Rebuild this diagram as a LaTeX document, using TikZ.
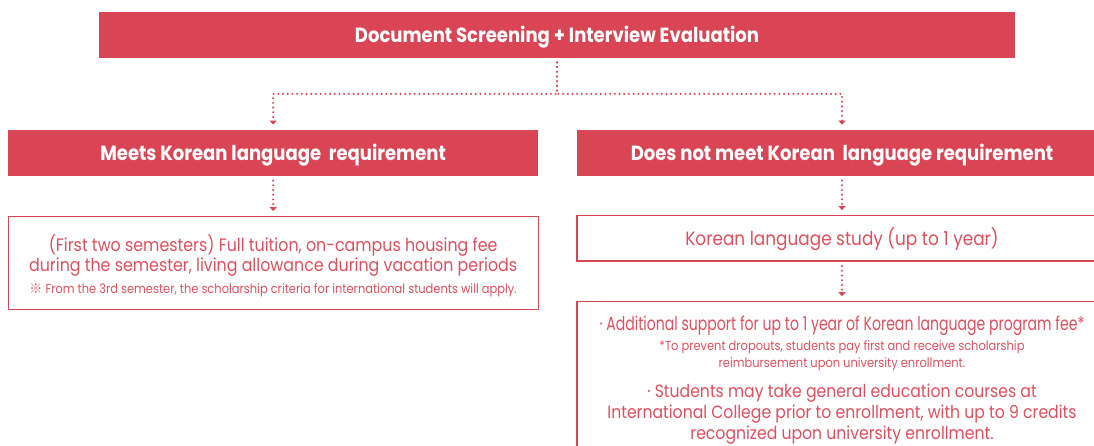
\documentclass[tikz,border=0pt]{standalone}
\usepackage{fontspec}
\setmainfont{Poppins}
\newfontfamily\bodyfont[FakeStretch=0.88]{Poppins}
\newfontfamily\squeezefont[FakeStretch=0.74]{Poppins}
\newfontfamily\refmark{Noto Sans CJK KR}
\usetikzlibrary{positioning,arrows.meta}
\definecolor{kred}{HTML}{D94555}
\definecolor{ktext}{HTML}{E04F5F}

\tikzset{
  headbox/.style={fill=kred, text=white, font=\bodyfont\bfseries\fontsize{20.5}{24}\selectfont,
    minimum width=530pt, minimum height=46pt, inner sep=0pt, text height=15pt, text depth=0pt},
  infobox/.style={draw=kred, line width=1.2pt, fill=white, text=ktext, align=center,
    minimum width=530pt, inner sep=0pt},
  flow/.style={kred, line width=2.3pt, line cap=round, dash pattern=on 0pt off 4.7pt,
    -{Triangle[width=7pt,length=4pt]}, shorten <=4.5pt, shorten >=5pt},
}

\begin{document}
\begin{tikzpicture}[x=1pt, y=-1pt]
\useasboundingbox (0,0) rectangle (1094,446);
\clip (0,0) rectangle (1094,446);

% headers
\node[headbox, minimum width=916pt, minimum height=45.7pt] (top) at (557,34.85) {Document Screening + Interview Evaluation};
\node[headbox] (meets) at (273.15,152.85) {Meets Korean language\ \ requirement};
\node[headbox] (notmeets) at (842,152.85) {Does not meet Korean\ \ language requirement};

% left branch
\node[infobox, minimum height=92.6pt,
      font={\bodyfont\fontsize{18}{0}\selectfont\lineskiplimit=-100pt}] (benefit) at (273.15,263)
  {\mbox{}\\[22pt]
   (First two semesters) Full tuition, on-campus housing fee\\[20pt]
   during the semester, living allowance during vacation periods\\[21.7pt]
   \fontsize{13}{0}\selectfont {\refmark ※} From the 3rd semester, the scholarship criteria for international students will apply.};

% right branch
\node[infobox, minimum height=45.3pt, text height=15pt, text depth=0pt,
      font=\bodyfont\fontsize{19.2}{22}\selectfont] (study) at (842,238.35)
  {Korean language study (up to 1 year)};
\node[infobox, minimum height=157pt,
      font={\bodyfont\fontsize{17.8}{0}\selectfont\lineskiplimit=-100pt}] (support) at (842,380.3)
  {{\squeezefont\fontsize{19}{0}\selectfont · Additional support for up to 1 year of Korean language program fee*}\\[20pt]
   \fontsize{13}{0}\selectfont *To prevent dropouts, students pay first and receive scholarship\\[17pt]
   \fontsize{13}{0}\selectfont reimbursement upon university enrollment.\\[29.6pt]
   · Students may take general education courses at\\[21pt]
   International College prior to enrollment, with up to 9 credits\\[21pt]
   recognized upon university enrollment.};

% connectors
\draw[flow] (top.south) -- ++(0,36) -| (meets.north);
\draw[flow] (top.south) -- ++(0,36) -| (notmeets.north);
\draw[flow] (meets.south) -- (benefit.north);
\draw[flow] (notmeets.south) -- (study.north);
\draw[flow] (study.south) -- (support.north);
\end{tikzpicture}
\end{document}
